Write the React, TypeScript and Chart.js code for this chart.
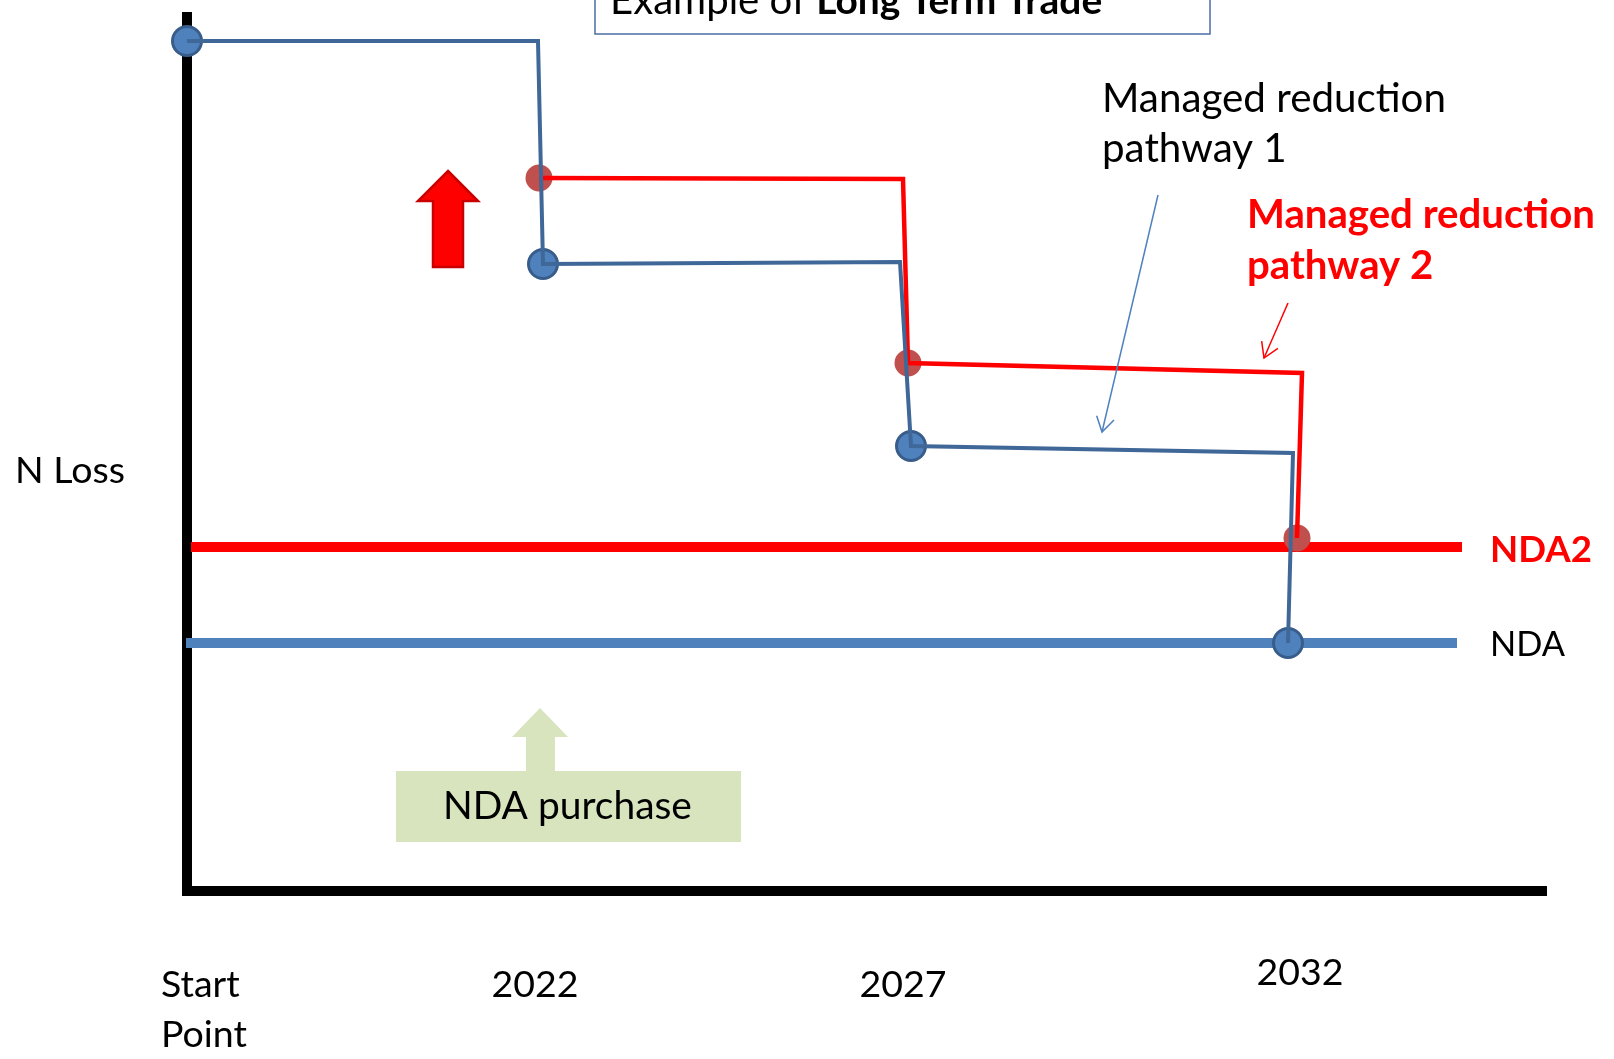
import React, { useEffect, useRef } from "react";
import { Chart, registerables } from "chart.js";

Chart.register(...registerables);

// ---- Data (x: time axis units, y: N loss units) ----
const xTickValues = [0, 348, 716, 1113];
const xTickLabels: string[][] = [["Start", "Point"], ["2022"], ["2027"], ["2032"]];

const pathway1X = [0, 351, 356, 713, 724, 1106, 1101];
const pathway1Y = [850, 850, 627, 629, 445, 438, 248];
const pathway1MarkerIdx = [0, 2, 4, 6];

const pathway2X = [352, 716, 721, 1115, 1110];
const pathway2Y = [713, 712, 528, 518, 353];
const pathway2MarkerIdx = [0, 2, 4];

const ndaX = [-1, 1270];
const ndaY = [248, 248];
const nda2X = [4, 1275];
const nda2Y = [344, 344];

const seriesNames = ["Managed reduction pathway 1", "Managed reduction pathway 2", "NDA", "NDA2"];
const yAxisTitle = "N Loss";
const chartTitleNormal = "Example of ";
const chartTitleBold = "Long Term Trade";
const purchaseLabel = "NDA purchase";

const FONT = "Lato, 'Open Sans', sans-serif";

const toPts = (xs: number[], ys: number[]) => xs.map((x, i) => ({ x, y: ys[i] }));
const pick = (xs: number[], ys: number[], idx: number[]) => idx.map((i) => ({ x: xs[i], y: ys[i] }));

function fitSize(ctx: CanvasRenderingContext2D, text: string, weight: string, target: number) {
  ctx.font = `${weight} 100px ${FONT}`;
  const w = ctx.measureText(text).width;
  return (100 * target) / w;
}

function arrowLine(ctx: CanvasRenderingContext2D, x1: number, y1: number, x2: number, y2: number, color: string) {
  ctx.save();
  ctx.strokeStyle = color;
  ctx.lineWidth = 1.5;
  ctx.beginPath();
  ctx.moveTo(x1, y1);
  ctx.lineTo(x2, y2);
  ctx.stroke();
  const a = Math.atan2(y2 - y1, x2 - x1);
  const L = 17;
  const sp = 0.55;
  ctx.beginPath();
  ctx.moveTo(x2 - L * Math.cos(a - sp), y2 - L * Math.sin(a - sp));
  ctx.lineTo(x2, y2);
  ctx.lineTo(x2 - L * Math.cos(a + sp), y2 - L * Math.sin(a + sp));
  ctx.stroke();
  ctx.restore();
}

function blockArrow(
  ctx: CanvasRenderingContext2D,
  tipX: number, tipY: number, headY: number, headL: number, headR: number,
  shaftL: number, shaftR: number, bottom: number, fill: string, stroke: string | null
) {
  ctx.save();
  ctx.beginPath();
  ctx.moveTo(tipX, tipY);
  ctx.lineTo(headR, headY);
  ctx.lineTo(shaftR, headY);
  ctx.lineTo(shaftR, bottom);
  ctx.lineTo(shaftL, bottom);
  ctx.lineTo(shaftL, headY);
  ctx.lineTo(headL, headY);
  ctx.closePath();
  ctx.fillStyle = fill;
  ctx.fill();
  if (stroke) {
    ctx.strokeStyle = stroke;
    ctx.lineWidth = 2.5;
    ctx.lineJoin = "miter";
    ctx.stroke();
  }
  ctx.restore();
}

const diagramPlugin = {
  id: "diagram",
  beforeDatasetsDraw(chart: any) {
    const ctx: CanvasRenderingContext2D = chart.ctx;
    const xs = chart.scales.x;
    const ys = chart.scales.y;
    const px = (v: number) => xs.getPixelForValue(v);
    const py = (v: number) => ys.getPixelForValue(v);
    ctx.save();
    // axes
    ctx.strokeStyle = "#000";
    ctx.lineWidth = 10;
    ctx.lineCap = "butt";
    ctx.beginPath();
    ctx.moveTo(px(0), py(ys.max));
    ctx.lineTo(px(0), py(0) + 5);
    ctx.stroke();
    ctx.beginPath();
    ctx.moveTo(px(0), py(0));
    ctx.lineTo(px(xs.max), py(0));
    ctx.stroke();

    // title box (clipped at top)
    ctx.strokeStyle = "#4a6fa5";
    ctx.lineWidth = 1.5;
    ctx.strokeRect(px(408), py(900), px(1023) - px(408), py(857) - py(900));

    // red block arrow
    blockArrow(ctx, px(261), py(720), py(690), px(231), px(291), px(246), px(276), py(624), "#ff0000", "#c80000");

    // green arrow + box
    blockArrow(ctx, px(353), py(183), py(154), px(325), px(381), px(339), px(368), py(119), "#d7e4bd", null);
    ctx.fillStyle = "#d7e4bd";
    ctx.fillRect(px(209), py(120), px(554) - px(209), py(49) - py(120));
    ctx.restore();
  },
  afterDatasetsDraw(chart: any) {
    const ctx: CanvasRenderingContext2D = chart.ctx;
    const xs = chart.scales.x;
    const ys = chart.scales.y;
    const px = (v: number) => xs.getPixelForValue(v);
    const py = (v: number) => ys.getPixelForValue(v);
    ctx.save();
    ctx.textBaseline = "alphabetic";

    // title text
    {
      const full = chartTitleNormal + chartTitleBold;
      const sN = fitSize(ctx, full, "400", 497);
      ctx.font = `400 ${sN}px ${FONT}`;
      const wN = ctx.measureText(chartTitleNormal).width;
      ctx.fillStyle = "#000";
      ctx.textAlign = "left";
      ctx.fillText(chartTitleNormal, px(423), py(877));
      ctx.font = `700 ${sN * 0.97}px ${FONT}`;
      ctx.fillText(chartTitleBold, px(423) + wN, py(877));
    }

    // y axis title
    ctx.textAlign = "left";
    ctx.fillStyle = "#000";
    ctx.font = `400 ${fitSize(ctx, yAxisTitle, "400", 110)}px ${FONT}`;
    ctx.fillText(yAxisTitle, px(-172), py(408));

    // series label: pathway 1
    {
      const [l1a, l1b] = ["Managed reduction", seriesNames[0].replace("Managed reduction ", "")];
      const s = fitSize(ctx, l1a, "400", 344);
      ctx.font = `400 ${s}px ${FONT}`;
      ctx.fillStyle = "#000";
      ctx.fillText(l1a, px(915), py(779));
      ctx.fillText(l1b, px(915), py(729));
    }
    // series label: pathway 2
    {
      const [l2a, l2b] = ["Managed reduction", seriesNames[1].replace("Managed reduction ", "")];
      const s = fitSize(ctx, l2a, "700", 348);
      ctx.font = `700 ${s}px ${FONT}`;
      ctx.fillStyle = "#ff0000";
      ctx.fillText(l2a, px(1060), py(663));
      ctx.fillText(l2b, px(1060), py(612));
    }
    // NDA2 / NDA labels
    ctx.font = `700 ${fitSize(ctx, seriesNames[3], "700", 102)}px ${FONT}`;
    ctx.fillStyle = "#ff0000";
    ctx.fillText(seriesNames[3], px(1303), py(329));
    ctx.font = `400 ${fitSize(ctx, seriesNames[2], "400", 75)}px ${FONT}`;
    ctx.fillStyle = "#000";
    ctx.fillText(seriesNames[2], px(1303), py(235));

    // NDA purchase
    ctx.font = `400 ${fitSize(ctx, purchaseLabel, "400", 249)}px ${FONT}`;
    ctx.fillStyle = "#000";
    ctx.fillText(purchaseLabel, px(256), py(72));

    // annotation arrows
    arrowLine(ctx, px(971), py(696), px(915), py(459), "#4f81bd");
    arrowLine(ctx, px(1101), py(588), px(1077), py(533), "#ff0000");

    // x tick labels
    const tickSize = fitSize(ctx, "2022", "400", 87);
    ctx.font = `400 ${tickSize}px ${FONT}`;
    ctx.fillStyle = "#000";
    const tickDy = [0, 0, 0, -12];
    xTickValues.forEach((v, i) => {
      const lines = xTickLabels[i];
      const base = py(0) + 106 + tickDy[i];
      lines.forEach((t, j) => {
        if (i === 0) {
          ctx.textAlign = "left";
          ctx.fillText(t, px(v) - 26, base + j * 50);
        } else {
          ctx.textAlign = "center";
          ctx.fillText(t, px(v), base + j * 50);
        }
      });
    });
    ctx.restore();
  },
};

export default function App() {
  const ref = useRef<HTMLCanvasElement | null>(null);
  useEffect(() => {
    document.body.style.margin = "0";
    document.body.style.overflow = "hidden";
    const canvas = ref.current!;
    const chart = new Chart(canvas, {
      type: "line",
      data: {
        datasets: [
          {
            label: seriesNames[0],
            data: toPts(pathway1X, pathway1Y),
            borderColor: "#3f6797",
            borderWidth: 4,
            pointRadius: 0,
            tension: 0,
            clip: false,
          } as any,
          {
            label: seriesNames[0] + " markers",
            data: pick(pathway1X, pathway1Y, pathway1MarkerIdx),
            showLine: false,
            pointRadius: 14.5,
            pointBackgroundColor: "#4f81bd",
            pointBorderColor: "#385d8a",
            pointBorderWidth: 3,
            clip: false,
          } as any,
          {
            label: seriesNames[1],
            data: toPts(pathway2X, pathway2Y),
            borderColor: "#ff0000",
            borderWidth: 4.5,
            pointRadius: 0,
            tension: 0,
            clip: false,
          } as any,
          {
            label: seriesNames[1] + " markers",
            data: pick(pathway2X, pathway2Y, pathway2MarkerIdx),
            showLine: false,
            pointRadius: 13.5,
            pointBackgroundColor: "#c0504d",
            pointBorderColor: "#c0504d",
            pointBorderWidth: 0,
            clip: false,
          } as any,
          {
            label: seriesNames[3],
            data: toPts(nda2X, nda2Y),
            borderColor: "#ff0000",
            borderWidth: 10,
            pointRadius: 0,
            borderCapStyle: "butt",
            clip: false,
          } as any,
          {
            label: seriesNames[2],
            data: toPts(ndaX, ndaY),
            borderColor: "#4f81bd",
            borderWidth: 10,
            pointRadius: 0,
            borderCapStyle: "butt",
            clip: false,
          } as any,
        ],
      },
      options: {
        responsive: false,
        animation: false,
        devicePixelRatio: 1,
        events: [],
        layout: { autoPadding: false, padding: { left: 187, top: 12, right: 67, bottom: 168 } },
        plugins: { legend: { display: false }, tooltip: { enabled: false }, title: { display: false } },
        scales: {
          x: { type: "linear", min: 0, max: 1360, display: false },
          y: { type: "linear", min: 0, max: 879, display: false },
        },
      },
      plugins: [diagramPlugin],
    } as any);
    return () => chart.destroy();
  }, []);
  return (
    <div style={{ position: "absolute", left: 0, top: 0, width: 1614, height: 1059, background: "#fff" }}>
      <canvas ref={ref} width={1614} height={1059} style={{ display: "block", width: 1614, height: 1059 }} />
    </div>
  );
}
